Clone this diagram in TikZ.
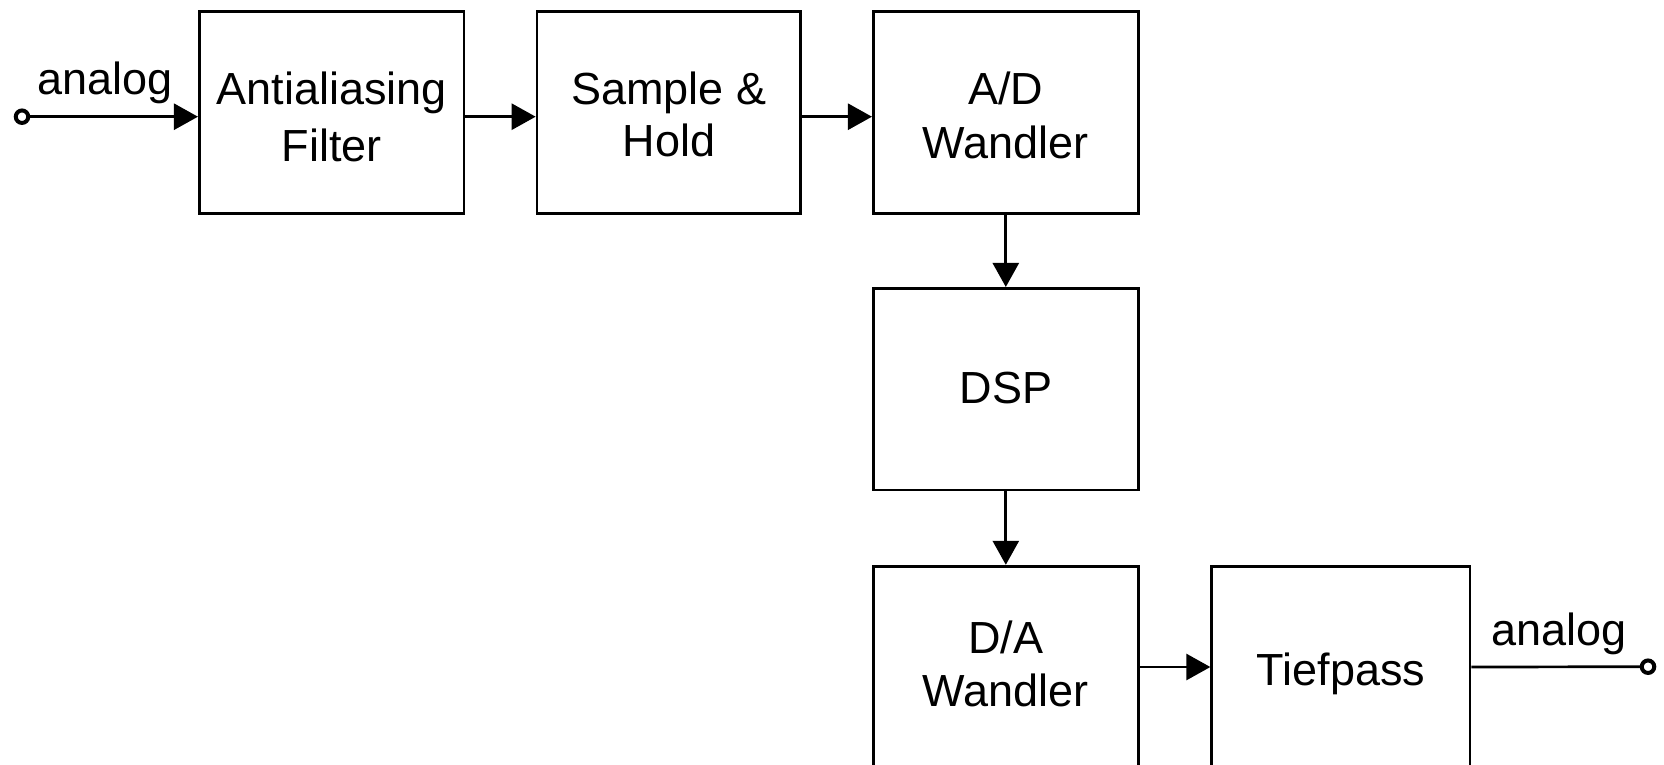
\documentclass[tikz,border=0pt]{standalone}
\usepackage{fontspec}
\setmainfont{Liberation Sans}
\usetikzlibrary{arrows.meta}

\tikzset{
  block/.style={draw, line width=2.7pt, inner sep=0pt, minimum height=201.7pt},
  boxtext/.style={inner sep=0pt, align=center},
  arr/.style={line width=2.7pt, -{Triangle[length=24pt, width=26pt]}},
  wire/.style={line width=2.7pt},
  port/.style={circle, draw, line width=4pt, minimum size=12.5pt, inner sep=0pt},
  lbl/.style={inner sep=0pt, font=\fontsize{45}{54}\selectfont}
}

\begin{document}
\begin{tikzpicture}[x=1pt, y=1pt]
  \useasboundingbox (0,0) rectangle (1664,-764);

  % blocks: top row
  \node[block, minimum width=264.7pt] (aa)  at (331.65,-112.5) {};
  \node[block, minimum width=263.7pt] (sh)  at (668.85,-112.5) {};
  \node[block, minimum width=265pt]   (ad)  at (1005.8,-112.5) {};
  % middle
  \node[block, minimum width=265pt]   (dsp) at (1005.8,-389.15) {};
  % bottom row
  \node[block, minimum width=265pt]   (da)  at (1005.8,-667) {};
  \node[block, minimum width=258.3pt] (tp)  at (1340.85,-667) {};

  % block captions
  \node[boxtext, font=\fontsize{45}{56.7}\selectfont] (aatxt)
    at ([yshift=-4.6pt]aa.center) {Antialiasing\\Filter};
  \node[boxtext, font=\fontsize{45}{51.7}\selectfont] (shtxt)
    at ([yshift=-2.1pt]sh.center) {Sample \&\\Hold};
  \node[boxtext, font=\fontsize{45}{54}\selectfont] (adtxt)
    at ([yshift=-3.2pt]ad.center) {A/D\\Wandler};
  \node[boxtext, font=\fontsize{45}{54}\selectfont, text height=28.6pt, text depth=0pt] (dsptxt)
    at (dsp.center) {DSP};
  \node[boxtext, font=\fontsize{45}{53.4}\selectfont] (datxt)
    at ([yshift=3.2pt]da.center) {D/A\\Wandler};
  \node[boxtext, font=\fontsize{45}{54}\selectfont, text height=36pt, text depth=0pt] (tptxt)
    at (tp.center) {Tiefpass};

  % terminals
  \node[port] (in)  at (22,-116.7) {};
  \node[port] (out) at (1648,-666.7) {};

  \node[lbl, anchor=base west] (inlbl)  at (37,-94) {analog};
  \node[lbl, anchor=base west] (outlbl) at (1491,-645) {analog};

  % connectors
  \draw[arr] (in) -- (in -| aa.west);
  \draw[arr] ([yshift=-4.2pt]aa.east) -- ([yshift=-4.2pt]sh.west);
  \draw[arr] ([yshift=-4.2pt]sh.east) -- ([yshift=-4.2pt]ad.west);
  \draw[arr] (ad.south) -- (dsp.north);
  \draw[arr] (dsp.south) -- (da.north);
  \draw[arr] (da.east) -- (tp.west);
  \draw[wire] (tp.east) -- (out);
\end{tikzpicture}
\end{document}
